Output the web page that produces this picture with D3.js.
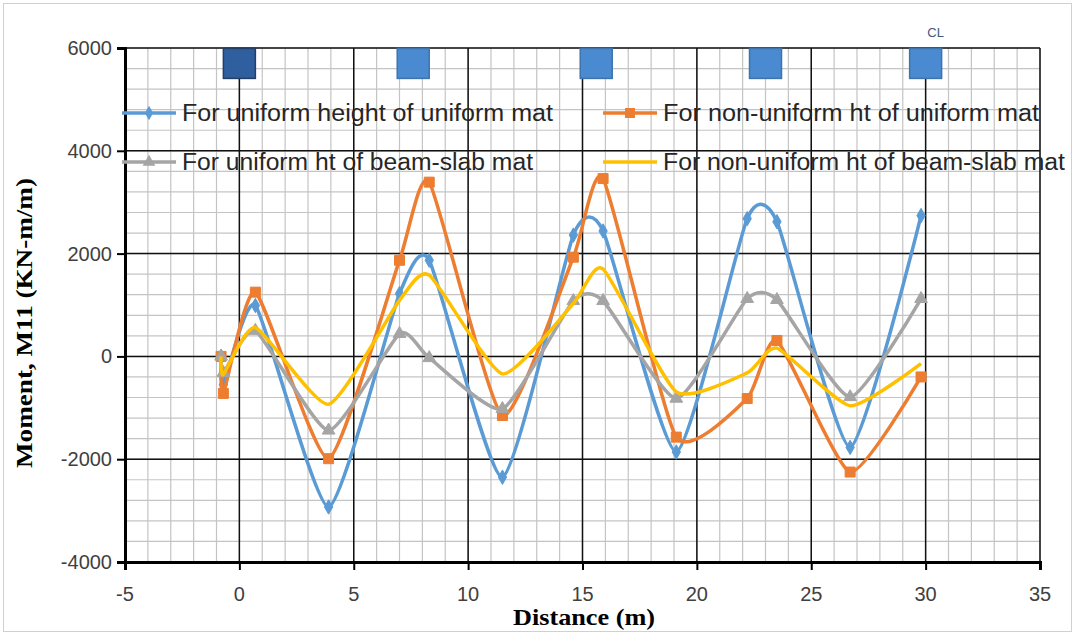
<!DOCTYPE html>
<html>
<head>
<meta charset="utf-8">
<script src="https://cdn.jsdelivr.net/npm/d3@7"></script>
<style>
  body { margin: 0; background: #fff; }
  .tick-label { font-family: "Liberation Sans", Arial, sans-serif; font-size: 20px; fill: #404040; }
  .axis-title { font-family: "Liberation Serif", "Times New Roman", serif; font-weight: bold; font-size: 24px; fill: #000; }
  .legend-text { font-family: "Liberation Sans", Arial, sans-serif; font-size: 23px; fill: #262626; }
</style>
</head>
<body>
<div id="main-chart"></div>
<script>
// Moment M11 along the mat, four cases

// Distances (m) shared by all series
var distance = [-0.8, -0.7, 0.7, 3.9, 7.0, 8.3, 11.5, 14.6, 15.9, 19.1, 22.2, 23.5, 26.7, 29.8];

// Moment values (KN-m/m)
var uniformHtUniformMat = [0, -550, 990, -2930, 1220, 1870, -2350, 2360, 2440, -1860, 2680, 2620, -1770, 2740];
var nonUniformHtUniformMat = [0, -720, 1250, -1990, 1870, 3390, -1150, 1930, 3460, -1570, -820, 310, -2250, -400];
var uniformHtBeamSlab = [0, -320, 500, -1440, 440, -30, -1020, 1080, 1080, -820, 1120, 1100, -790, 1120];
var nonUniformHtBeamSlab = [0, -350, 560, -930, 1090, 1580, -340, 1030, 1700, -690, -320, 160, -960, -140];

var seriesNames = [
  "For uniform height of uniform mat",
  "For non-uniform ht of uniform mat",
  "For uniform ht of beam-slab mat",
  "For non-uniform ht of beam-slab mat"
];

// Column positions shown as squares along the top
var columnX = [0, 7.6, 15.6, 23, 30];
var columnY = 5700;

// Axis ticks
var xTicks = [-5, 0, 5, 10, 15, 20, 25, 30, 35];
var yTicks = [-4000, -2000, 0, 2000, 4000, 6000];

var width = 1075,
  height = 636;

var xScale = d3.scaleLinear().domain([-5, 35]).range([125, 1040]);
var yScale = d3.scaleLinear().domain([-4000, 6000]).range([562, 48]);

var svg = d3
  .select("#main-chart")
  .append("svg")
  .attr("width", width)
  .attr("height", height);

// Outer chart border
svg
  .append("rect")
  .attr("x", 3.5)
  .attr("y", 3.5)
  .attr("width", width - 7)
  .attr("height", height - 8)
  .attr("fill", "#fff")
  .attr("stroke", "#d0d0d0");

// Minor grid
var minorX = d3.range(-5, 35.01, 1);
var minorY = d3.range(-4000, 6000.1, 400);

svg
  .append("g")
  .selectAll("line")
  .data(minorX)
  .enter()
  .append("line")
  .attr("x1", function(d) { return xScale(d); })
  .attr("x2", function(d) { return xScale(d); })
  .attr("y1", yScale(-4000))
  .attr("y2", yScale(6000))
  .attr("stroke", "#c4c4c4")
  .attr("stroke-width", 1.2);

svg
  .append("g")
  .selectAll("line")
  .data(minorY)
  .enter()
  .append("line")
  .attr("x1", xScale(-5))
  .attr("x2", xScale(35))
  .attr("y1", function(d) { return yScale(d); })
  .attr("y2", function(d) { return yScale(d); })
  .attr("stroke", "#c4c4c4")
  .attr("stroke-width", 1.2);

// Major grid
svg
  .append("g")
  .selectAll("line")
  .data(xTicks)
  .enter()
  .append("line")
  .attr("x1", function(d) { return xScale(d); })
  .attr("x2", function(d) { return xScale(d); })
  .attr("y1", yScale(-4000))
  .attr("y2", yScale(6000))
  .attr("stroke", "#111")
  .attr("stroke-width", 1.5);

svg
  .append("g")
  .selectAll("line")
  .data(yTicks)
  .enter()
  .append("line")
  .attr("x1", xScale(-5))
  .attr("x2", xScale(35))
  .attr("y1", function(d) { return yScale(d); })
  .attr("y2", function(d) { return yScale(d); })
  .attr("stroke", "#111")
  .attr("stroke-width", 1.5);

// Axes (ticks only, labels drawn below)
var xAxis = svg
  .append("g")
  .attr("transform", "translate(0," + yScale(-4000) + ")")
  .call(d3.axisBottom(xScale).tickValues(xTicks).tickSize(8).tickFormat(""));
xAxis.select(".domain").attr("stroke", "#000").attr("stroke-width", 3);
xAxis.selectAll(".tick line").attr("stroke", "#000").attr("stroke-width", 2);

var yAxis = svg
  .append("g")
  .attr("transform", "translate(" + xScale(-5) + ",0)")
  .call(d3.axisLeft(yScale).tickValues(yTicks).tickSize(8).tickFormat(""));
yAxis.select(".domain").attr("stroke", "#000").attr("stroke-width", 3);
yAxis.selectAll(".tick line").attr("stroke", "#000").attr("stroke-width", 2);

// Tick labels
svg
  .append("g")
  .selectAll("text")
  .data(xTicks)
  .enter()
  .append("text")
  .attr("class", "tick-label")
  .attr("x", function(d) { return xScale(d); })
  .attr("y", yScale(-4000) + 39)
  .attr("text-anchor", "middle")
  .text(function(d) { return d; });

svg
  .append("g")
  .selectAll("text")
  .data(yTicks)
  .enter()
  .append("text")
  .attr("class", "tick-label")
  .attr("x", xScale(-5) - 13)
  .attr("y", function(d) { return yScale(d) + 7; })
  .attr("text-anchor", "end")
  .text(function(d) { return d; });

// Axis titles
svg
  .append("text")
  .attr("class", "axis-title")
  .attr("x", 513)
  .attr("y", 625)
  .attr("textLength", 142)
  .attr("lengthAdjust", "spacingAndGlyphs")
  .text("Distance (m)");

svg
  .append("text")
  .attr("class", "axis-title")
  .attr("transform", "translate(32,468) rotate(-90)")
  .attr("textLength", 290)
  .attr("lengthAdjust", "spacingAndGlyphs")
  .text("Moment, M11 (KN-m/m)");

// Column squares
svg
  .append("g")
  .selectAll("rect")
  .data(columnX)
  .enter()
  .append("rect")
  .attr("x", function(d) { return xScale(d) - 16; })
  .attr("y", yScale(columnY) - 15)
  .attr("width", 32)
  .attr("height", 30)
  .attr("fill", function(d, i) { return i === 0 ? "#2f5f9e" : "#4a8ad0"; })
  .attr("stroke", function(d, i) { return i === 0 ? "#243f66" : "#3f73ad"; })
  .attr("stroke-width", 1.5);

svg
  .append("text")
  .attr("x", xScale(30) + 10)
  .attr("y", 37)
  .attr("text-anchor", "middle")
  .style("font-family", "Liberation Sans, Arial, sans-serif")
  .style("font-size", "13px")
  .style("fill", "#3d5a80")
  .text("CL");

// Series lines
var series = [
  { name: seriesNames[0], values: uniformHtUniformMat, color: "#5b9bd5", symbol: d3.symbolDiamond, size: 60 },
  { name: seriesNames[1], values: nonUniformHtUniformMat, color: "#ed7d31", symbol: d3.symbolSquare, size: 100 },
  { name: seriesNames[2], values: uniformHtBeamSlab, color: "#a5a5a5", symbol: d3.symbolTriangle, size: 70 },
  { name: seriesNames[3], values: nonUniformHtBeamSlab, color: "#ffc000", symbol: null, size: 0 }
];

var lineGenerator = d3
  .line()
  .x(function(d) { return xScale(d.x); })
  .y(function(d) { return yScale(d.y); })
  .curve(d3.curveCardinal.tension(0.45));

series.forEach(function(s) {
  var pts = distance.map(function(x, i) { return { x: x, y: s.values[i] }; });
  svg
    .append("path")
    .datum(pts)
    .attr("fill", "none")
    .attr("stroke", s.color)
    .attr("stroke-width", 3.5)
    .attr("d", lineGenerator);

  if (s.symbol) {
    svg
      .append("g")
      .selectAll("path")
      .data(pts)
      .enter()
      .append("path")
      .attr("transform", function(d) {
        return "translate(" + xScale(d.x) + "," + yScale(d.y) + ")";
      })
      .attr("d", d3.symbol().type(s.symbol).size(s.size))
      .attr("fill", s.color)
      .attr("stroke", s.color);
  }
});

// Legend
var legendPos = [
  { x: 122, y: 113, end: 553 },
  { x: 603, y: 113, end: 1039 },
  { x: 122, y: 162, end: 533 },
  { x: 603, y: 162, end: 1065 }
];

series.forEach(function(s, i) {
  var p = legendPos[i];
  var g = svg.append("g");
  g.append("line")
    .attr("x1", p.x)
    .attr("x2", p.x + 54)
    .attr("y1", p.y)
    .attr("y2", p.y)
    .attr("stroke", s.color)
    .attr("stroke-width", 3.5);
  if (s.symbol) {
    g.append("path")
      .attr("transform", "translate(" + (p.x + 27) + "," + p.y + ")")
      .attr("d", d3.symbol().type(s.symbol).size(s.size))
      .attr("fill", s.color);
  }
  g.append("text")
    .attr("class", "legend-text")
    .attr("x", p.x + 60)
    .attr("y", p.y + 8)
    .attr("textLength", p.end - p.x - 60)
    .attr("lengthAdjust", "spacingAndGlyphs")
    .text(s.name);
});
</script>
</body>
</html>
